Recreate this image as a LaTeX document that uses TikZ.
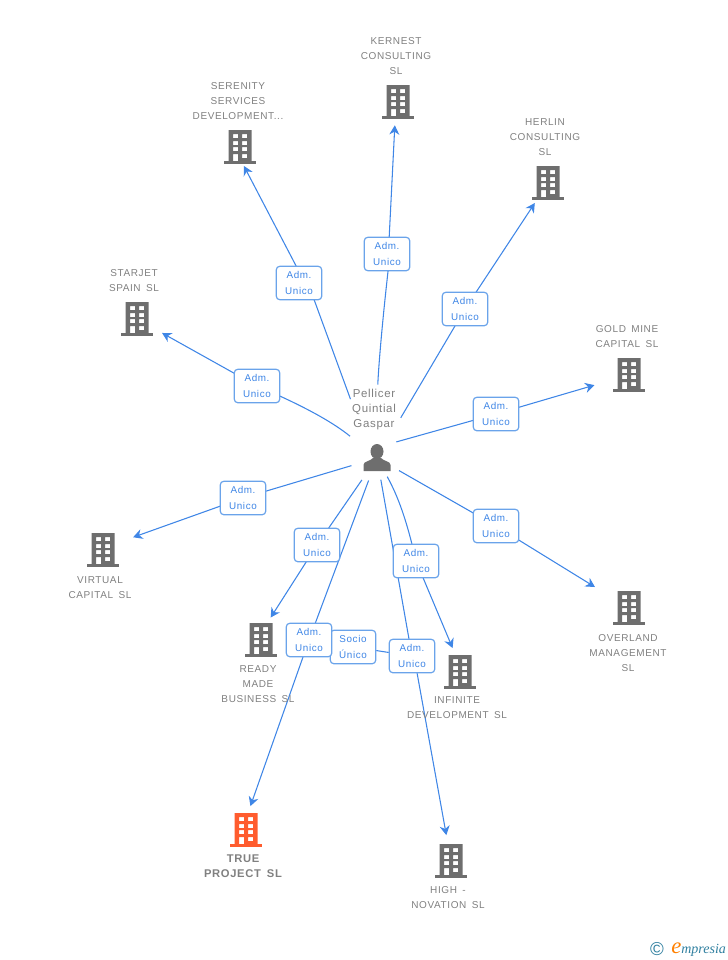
\documentclass[tikz,border=0pt]{standalone}
\usepackage{fontspec}
\setmainfont[LetterSpace=6,WordSpace=1.6]{Liberation Sans}
\newfontfamily\logofont{Liberation Serif}
\usetikzlibrary{arrows.meta,backgrounds}
\definecolor{bldgray}{HTML}{6E6E6E}
\definecolor{bldorange}{HTML}{FF5C2E}
\definecolor{txtgray}{HTML}{808080}
\definecolor{wireblue}{HTML}{3F86E6}
\definecolor{boxblue}{HTML}{6AA3EA}
\definecolor{logoteal}{HTML}{2F7F9F}
\tikzset{
  pics/building/.style={code={
    \fill[even odd rule] (-11.5,-17) rectangle (11.5,14)
      (-7,-13) rectangle (-2,-9) (2,-13) rectangle (7,-9)
      (-7,-6) rectangle (-2,-2) (2,-6) rectangle (7,-2)
      (-7,0) rectangle (-2,4) (2,0) rectangle (7,4)
      (-7,7) rectangle (-2,14) (2,7) rectangle (7,11);
    \fill (-16,14) rectangle (16,17);
  }},
  pics/personicon/.style={code={
    \fill (0,-6.5) ellipse (6.5 and 7.5);
    \fill (-13.5,13) -- (-13.5,7) .. controls (-13.5,3) and (-7,3.5) .. (-4,0)
      -- (4,0) .. controls (7,3.5) and (13.5,3) .. (13.5,7) -- (13.5,13) -- cycle;
  }}
}
\begin{document}
\begin{tikzpicture}[%
        x=0.75pt, y=-0.75pt,
        every node/.style={inner sep=0pt, align=center},
        bld/.style={minimum size=0pt},
        txt/.style={text=txtgray, font=\fontsize{7.5pt}{11.25pt}\selectfont},
        adm/.style={draw=boxblue, fill=white, line width=0.9pt, rounded corners=2.5pt,
          minimum width=34pt, minimum height=25pt, text=wireblue,
          font=\fontsize{7.4pt}{11.6pt}\selectfont},
        wire/.style={draw=wireblue, line width=0.8pt},
        arrow/.style={draw=wireblue, line width=0.8pt, -{Stealth[length=7pt,width=7.5pt]}}
      ]
      \useasboundingbox (0,0) rectangle (728,960);

      \node [bld] (person) at (377,458) {};
      \node [bld] (kernest) at (398,102) {};
      \node [bld] (serenity) at (240,147) {};
      \node [bld] (herlin) at (548,183) {};
      \node [bld] (starjet) at (137,319) {};
      \node [bld] (goldmine) at (629,375) {};
      \node [bld] (overland) at (629,608) {};
      \node [bld] (virtual) at (103,550) {};
      \node [bld] (ready) at (261,640) {};
      \node [bld] (trueproject) at (246,830) {};
      \node [bld] (infinite) at (460,672) {};
      \node [bld] (high) at (451,861) {};

      \pic [bldgray] at (person) {personicon};
      \pic [bldgray] at (kernest) {building};
      \pic [bldgray] at (serenity) {building};
      \pic [bldgray] at (herlin) {building};
      \pic [bldgray] at (starjet) {building};
      \pic [bldgray] at (goldmine) {building};
      \pic [bldgray] at (overland) {building};
      \pic [bldgray] at (virtual) {building};
      \pic [bldgray] at (ready) {building};
      \pic [bldorange] at (trueproject) {building};
      \pic [bldgray] at (infinite) {building};
      \pic [bldgray] at (high) {building};

      \node [txt, font=\fontsize{8.6pt}{11.25pt}\selectfont] (personname) at (374,410) {Pellicer\\Quintial\\Gaspar};
      \node [txt] (kernestname) at (396,56) {KERNEST\\CONSULTING\\SL};
      \node [txt] (serenityname) at (238,101) {SERENITY\\SERVICES\\DEVELOPMENT...};
      \node [txt] (herlinname) at (545,137) {HERLIN\\CONSULTING\\SL};
      \node [txt] (starjetname) at (134,281) {STARJET\\SPAIN SL};
      \node [txt] (goldminename) at (627,337) {GOLD MINE\\CAPITAL SL};
      \node [txt] (overlandname) at (628,653) {OVERLAND\\MANAGEMENT\\SL};
      \node [txt] (virtualname) at (100,588) {VIRTUAL\\CAPITAL SL};
      \node [txt] (readyname) at (258,684) {READY\\MADE\\BUSINESS SL};
      \node [txt, font=\bfseries\fontsize{8.4pt}{11.25pt}\selectfont] (truename) at (243,866) {TRUE\\PROJECT SL};
      \node [txt] (infinitename) at (457,708) {INFINITE\\DEVELOPMENT SL};
      \node [txt] (highname) at (448,898) {HIGH -\\NOVATION SL};

      \node [adm] (socio) at (353,647) {Socio\\Único};
      \node [adm] (admkernest) at (387,254) {Adm.\\Unico};
      \node [adm] (admserenity) at (299,283) {Adm.\\Unico};
      \node [adm] (admherlin) at (465,309) {Adm.\\Unico};
      \node [adm] (admstarjet) at (257,386) {Adm.\\Unico};
      \node [adm] (admgoldmine) at (496,414) {Adm.\\Unico};
      \node [adm] (admoverland) at (496,526) {Adm.\\Unico};
      \node [adm] (admvirtual) at (243,498) {Adm.\\Unico};
      \node [adm] (admready) at (317,545) {Adm.\\Unico};
      \node [adm] (admtrue) at (309,640) {Adm.\\Unico};
      \node [adm] (adminfinite) at (416,561) {Adm.\\Unico};
      \node [adm] (admhigh) at (412,656) {Adm.\\Unico};

      \begin{scope}[on background layer]
        \path (person.center) edge[wire, shorten <=55pt, bend left=3] ([xshift=2.25pt]admkernest.center)
        ([xshift=-3.75pt]person.center) edge[wire, shorten <=47pt] ([xshift=6.75pt]admserenity.center)
        (person.center) edge[wire, shorten <=35pt] (admherlin.center)
        (person.center) edge[wire, shorten <=26pt, bend right=8] (admstarjet.center)
        ([yshift=8pt]person.center) edge[wire, shorten <=15pt] (admgoldmine.center)
        (person.center) edge[wire, shorten <=19pt] (admoverland.center)
        (person.center) edge[wire, shorten <=20pt] (admvirtual.center)
        (person.center) edge[wire, shorten <=20pt] (admready.center)
        (person.center) edge[wire, shorten <=18pt] (admtrue.center)
        (person.center) edge[wire, shorten <=16pt, bend left=8] (adminfinite.center)
        (person.center) edge[wire, shorten <=16.5pt] (admhigh.center)
        (socio) edge[wire] (admhigh)
        ([xshift=1pt]admkernest.center) edge[arrow, shorten >=17.5pt] ([xshift=-1.5pt]kernest.center)
        ([xshift=4.5pt]admserenity.center) edge[arrow, shorten >=16pt] ([xshift=-4.5pt]serenity.center)
        (admherlin.center) edge[arrow, shorten >=18pt] (herlin.center)
        (admstarjet.center) edge[arrow, shorten >=21.5pt] (starjet.center)
        (admgoldmine.center) edge[arrow, shorten >=27pt] (goldmine.center)
        (admoverland.center) edge[arrow, shorten >=30pt] (overland.center)
        (admvirtual.center) edge[arrow, shorten >=24pt] ([yshift=1.5pt]virtual.center)
        (admready.center) edge[arrow, shorten >=20pt] ([xshift=-3.5pt]ready.center)
        (admtrue.center) edge[arrow, shorten >=19pt] ([xshift=-3pt]trueproject.center)
        (adminfinite.center) edge[arrow, shorten >=19.5pt] ([xshift=2pt]infinite.center)
        ([xshift=1.5pt]admhigh.center) edge[arrow, shorten >=19.7pt] (high.center);
      \end{scope}

      \node (copyright) at (657,949) [text=logoteal, font=\fontsize{14pt}{14pt}\selectfont] {©};
      \node (logo) at (671,953) [anchor=base west, text=logoteal, font=\logofont\itshape\fontsize{10.5pt}{10pt}\selectfont]
        {\textcolor{orange}{\fontsize{17pt}{10pt}\selectfont e}mpresia};
    \end{tikzpicture}
\end{document}
